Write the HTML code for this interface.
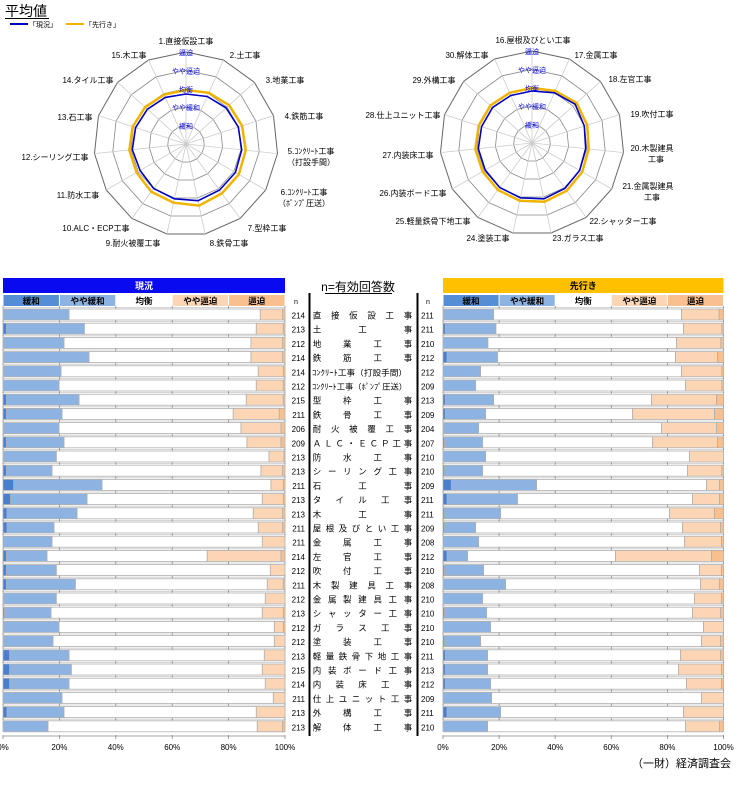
<!DOCTYPE html>
<html><head><meta charset="utf-8">
<style>
html,body{margin:0;padding:0;background:#fff;}
body{width:745px;height:800px;overflow:hidden;font-family:"Liberation Sans","Noto Sans CJK JP",sans-serif;}
svg{position:absolute;left:0;top:0;}
</style></head>
<body>
<svg id="s" width="745" height="800" viewBox="0 0 745 800" xmlns="http://www.w3.org/2000/svg" font-family="Liberation Sans, Noto Sans CJK JP, sans-serif"></svg>
<script>
var out=[];
function R(x,y,w,h,f,st){out.push('<rect x="'+x.toFixed(2)+'" y="'+y.toFixed(2)+'" width="'+Math.max(0,w).toFixed(2)+'" height="'+h+'" fill="'+f+'"'+(st?' stroke="'+st+'" stroke-width="0.8"':'')+'/>');}
function T(x,y,t,sz,anc,fill,wt){out.push('<text x="'+x+'" y="'+y+'" font-size="'+sz+'" text-anchor="'+(anc||'start')+'" fill="'+(fill||'#000')+'"'+(wt?' font-weight="bold"':'')+'>'+t+'</text>');}
function L(x1,y1,x2,y2,c,w){out.push('<line x1="'+x1+'" y1="'+y1+'" x2="'+x2+'" y2="'+y2+'" stroke="'+c+'" stroke-width="'+(w||1)+'"/>');}

// title + legend
T(5,16,'平均値',14,'start','#000');
L(5,18.5,49,18.5,'#000',1);
L(10,24,28,24,'#0000c0',2);T(29,27,'「現況」',7);
L(66,24,84,24,'#f0b400',2);T(85,27,'「先行き」',7);

// radar
function radar(cx,cy,labels,blue,orng){
  var n=15,r0=18.4;
  for(var k=1;k<=5;k++){var p=[];for(var i=0;i<n;i++){var a=-Math.PI/2+i*2*Math.PI/n;p.push((cx+r0*k*Math.cos(a)).toFixed(1)+','+(cy+r0*k*Math.sin(a)).toFixed(1));}
    out.push('<polygon points="'+p.join(' ')+'" fill="none" stroke="'+(k==5?'#666':'#888')+'" stroke-width="'+(k==5?1:0.8)+'"/>');}
  for(var i=0;i<n;i++){var a=-Math.PI/2+i*2*Math.PI/n;L(cx,cy,(cx+92*Math.cos(a)).toFixed(1),(cy+92*Math.sin(a)).toFixed(1),'#ccc',0.8);}
  [[orng,'#f0b400',2.5],[blue,'#0000c0',1.6]].forEach(function(s){var p=[];for(var i=0;i<n;i++){var a=-Math.PI/2+i*2*Math.PI/n;p.push((cx+s[0][i]*Math.cos(a)).toFixed(1)+','+(cy+s[0][i]*Math.sin(a)).toFixed(1));}
    out.push('<polygon points="'+p.join(' ')+'" fill="none" stroke="'+s[1]+'" stroke-width="'+s[2]+'"/>');});
  var sl=['緩和','やや緩和','均衡','やや逼迫','逼迫'];
  for(var k=0;k<5;k++)T(cx,cy-18.4*(k+1)+3,sl[k],7,'middle','#0000e0');
  labels.forEach(function(l){for(var j=0;j<l[2].length;j++)T(l[0],l[1]+j*11,l[2][j],8,'middle');});
}
var b1=[50,52,54,55,56,57,57,58,56,55,53,54,53,52,51],o1=[54,56,58,59,60,61,61,63,60,59,57,57,56,55,54];
radar(186,144,[[186,44,['1.直接仮設工事']],[245,58,['2.土工事']],[285,83,['3.地業工事']],[304,119,['4.鉄筋工事']],[311,154,['5.ｺﾝｸﾘｰﾄ工事','（打設手間）']],[304,195,['6.ｺﾝｸﾘｰﾄ工事','（ﾎﾟﾝﾌﾟ圧送）']],[267,231,['7.型枠工事']],[229,246,['8.鉄骨工事']],[133,246,['9.耐火被覆工事']],[96,231,['10.ALC・ECP工事']],[78,198,['11.防水工事']],[55,160,['12.シーリング工事']],[75,120,['13.石工事']],[88,83,['14.タイル工事']],[129,58,['15.木工事']]],b1,o1);
var b2=[52,55,58,55,54,55,56,57,56,55,54,54,53,53,52],o2=[55,57,60,58,57,58,59,60,59,58,57,57,56,56,55];
radar(532,143,[[533,43,['16.屋根及びとい工事']],[596,58,['17.金属工事']],[630,82,['18.左官工事']],[652,117,['19.吹付工事']],[652,151,['20.木製建具','　工事']],[648,189,['21.金属製建具','　工事']],[623,224,['22.シャッター工事']],[578,241,['23.ガラス工事']],[488,241,['24.塗装工事']],[433,224,['25.軽量鉄骨下地工事']],[413,196,['26.内装ボード工事']],[408,158,['27.内装床工事']],[403,118,['28.仕上ユニット工事']],[434,83,['29.外構工事']],[467,58,['30.解体工事']]],b2,o2);

// bar charts
var LD=[[12,208,781,848],[20,254,769,850],[12,193,753,848],[12,268,753,848],[12,184,775,850],[10,178,769,850],[20,238,739,850],[20,187,700,838],[12,178,723,843],[20,193,741,843],[12,170,807,852],[20,157,783,848],[42,307,813,850],[33,262,787,850],[22,232,760,848],[22,163,775,848],[10,157,787,855],[20,142,622,843],[20,170,811,855],[20,227,802,850],[12,170,796,855],[14,154,787,850],[12,178,823,850],[12,160,823,855],[30,208,793,855],[30,215,787,855],[30,208,796,855],[10,187,820,855],[22,193,769,855],[10,145,772,848]];
var RD=[[70,220,784,897],[75,227,790,905],[68,203,769,902],[80,232,766,892],[68,181,784,905],[68,166,796,905],[75,220,694,889],[75,196,637,883],[70,175,724,889],[72,187,697,892],[68,196,808,910],[72,187,802,905],[93,349,859,898],[80,292,817,898],[72,241,748,883],[72,166,787,901],[68,175,793,904],[80,142,586,874],[72,190,838,904],[68,256,841,898],[68,187,823,904],[72,199,817,901],[68,211,850,910],[72,181,844,901],[75,202,781,901],[75,202,775,904],[75,211,799,904],[68,214,844,910],[80,241,790,910],[68,202,796,898]];
var cols=['#4a7fcf','#8db3e2','#ffffff','#fcd5b4','#f9bf8f'];
function chart(x0,w,D,z0,z1,title,tc,tfc){
  R(x0,278,w,15,tc);T(x0+w/2,289,title,9,'middle',tfc,1);
  var hl=['緩和','やや緩和','均衡','やや逼迫','逼迫'],hc=['#558ed5','#8db3e2','#ffffff','#fcd5b4','#fabf8f'];
  for(var k=0;k<5;k++){R(x0+k*w/5,295,w/5,11,hc[k]);T(x0+k*w/5+w/10,304,hl[k],8.5,'middle','#000',1);}
  for(var k=0;k<=5;k++)L(x0+k*w/5,295,x0+k*w/5,306,'#fff',1);
  for(var i=0;i<30;i++){var y=309+i*14.2;
    L(x0,y-1.6,x0+w,y-1.6,'#c8c8c8',0.8);
    for(var k=0;k<=5;k++)L(x0+k*w/5,y-3,x0+k*w/5,y-0.5,'#888',0.8);
    var b=[z0].concat(D[i]).concat([z1]);
    for(var k=0;k<5;k++){var a=x0+(b[k]-z0)/(z1-z0)*w,e=x0+(b[k+1]-z0)/(z1-z0)*w;if(e>a+0.1)R(a,y,e-a,11,cols[k],'#b0b0b0');}
  }
  L(x0,736,x0+w,736,'#888',0.8);
  for(var k=0;k<=5;k++){L(x0+k*w/5,735,x0+k*w/5,739,'#888',0.8);T(x0+k*w/5,750,(k*20)+'%',8,'middle');}
}
chart(3,282,LD,10,855,'現況','#0a0af0','#fff');
chart(443,280.5,RD,68,910,'先行き','#ffc000','#000');

// middle
T(358,291,'n=有効回答数',12,'middle');L(325,293.5,392,293.5,'#000',1);
T(294,304,'n',7);T(426,304,'n',7);
L(309.5,293,309.5,736,'#000',2);L(417.5,293,417.5,736,'#000',2);
var items=['直接仮設工事','土工事','地業工事','鉄筋工事','ｺﾝｸﾘｰﾄ工事（打設手間）','ｺﾝｸﾘｰﾄ工事（ﾎﾟﾝﾌﾟ圧送）','型枠工事','鉄骨工事','耐火被覆工事','ＡＬＣ・ＥＣＰ工事','防水工事','シーリング工事','石工事','タイル工事','木工事','屋根及びとい工事','金属工事','左官工事','吹付工事','木製建具工事','金属製建具工事','シャッター工事','ガラス工事','塗装工事','軽量鉄骨下地工事','内装ボード工事','内装床工事','仕上ユニット工事','外構工事','解体工事'];
var nl=[214,213,212,214,214,212,215,211,206,209,213,213,211,213,213,211,211,214,212,211,212,213,212,212,213,215,214,211,213,213];
var nr=[211,211,210,212,212,209,213,209,204,207,210,210,209,211,211,209,208,212,210,208,210,210,210,210,211,213,212,209,211,210];
for(var i=0;i<30;i++){var y=318.5+i*14.2;
  T(305,y,nl[i],8,'end');T(421,y,nr[i],8,'start');
  var s=items[i];
  if(i==4||i==5){out.push('<text x="312" y="'+y+'" font-size="8" textLength="95" lengthAdjust="spacingAndGlyphs">'+s+'</text>');}
  else{var n=s.length;for(var j=0;j<n;j++){var x=317+j*(91/(n-1));T(x.toFixed(1),y,s[j],8.5,'middle');}}
}
T(731,767,'（一財）経済調査会',11,'end');
document.getElementById('s').innerHTML=out.join('');
</script>
</body></html>
